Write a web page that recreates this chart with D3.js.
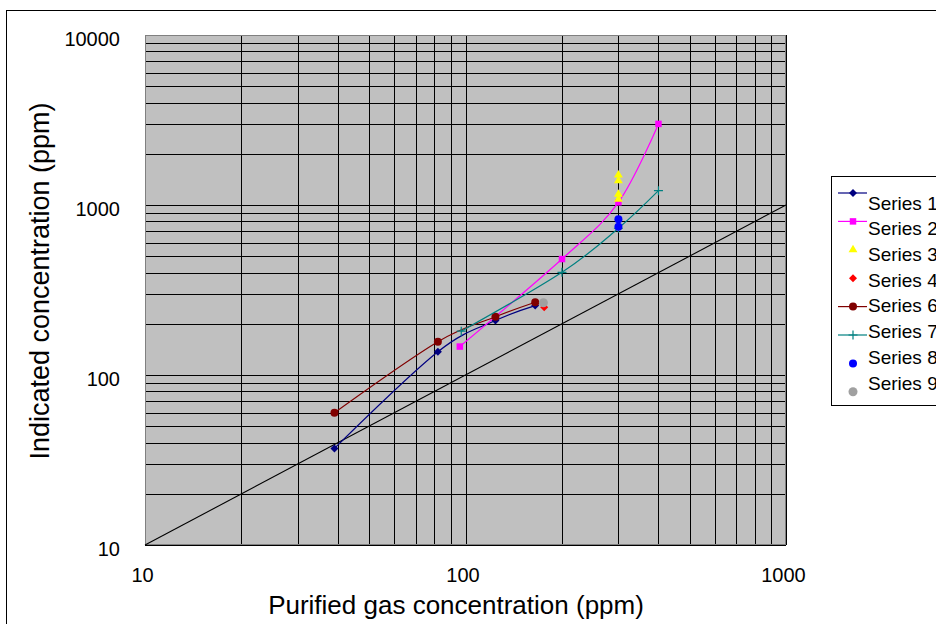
<!DOCTYPE html>
<html>
<head>
<meta charset="utf-8">
<script src="https://cdn.jsdelivr.net/npm/d3@7"></script>
<style>
    body { margin: 0; background: #fff; }
    text { font-family: "Liberation Sans", Arial, sans-serif; fill: #000; }
</style>
</head>
<body>
<div id="chart"></div>
<script>
// values (ppm)
const seriesNames = ["Series 1", "Series 2", "Series 3", "Series 4", "Series 6", "Series 7", "Series 8", "Series 9"];

const series1X = [39, 82, 124, 165];
const series1Y = [37, 137, 209, 256];
const series2X = [96, 200, 300, 400];
const series2Y = [147, 481, 1037, 3000];
const series3X = [300, 300, 300, 300];
const series3Y = [1500, 1390, 1156, 1081];
const series4X = [176];
const series4Y = [250];
const series6X = [39, 82, 124, 165];
const series6Y = [60, 157, 220, 268];
const series7X = [97, 200, 300, 400];
const series7Y = [181, 402, 730, 1214];
const series8X = [300, 300];
const series8Y = [824, 745];
const series9X = [175];
const series9Y = [266];

const refLineX = [10, 1000];
const refLineY = [10, 1000];

const xDomain = [10, 1000];
const yDomain = [10, 10000];
const xLabels = [10, 100, 1000];
const yLabels = [10, 100, 1000, 10000];

// styling per series
const seriesStyle = [
    { color: "#000080", shape: "diamond", line: true },
    { color: "#FF00FF", shape: "square", line: true },
    { color: "#FFFF00", shape: "triangle", line: false },
    { color: "#FF0000", shape: "diamond", line: false },
    { color: "#800000", shape: "circle", line: true },
    { color: "#008080", shape: "plus", line: true },
    { color: "#0000FF", shape: "circle", line: false },
    { color: "#A0A0A0", shape: "bigcircle", line: false }
];

const seriesData = [
    [series1X, series1Y], [series2X, series2Y], [series3X, series3Y], [series4X, series4Y],
    [series6X, series6Y], [series7X, series7Y], [series8X, series8Y], [series9X, series9Y]
].map(([xs, ys]) => xs.map((v, i) => [v, ys[i]]));

const margin = { top: 35, left: 145 };
const width = 641;
const height = 510;

const svg = d3.select("#chart")
    .append("svg")
    .attr("width", 936)
    .attr("height", 624);

// outer chart frame (runs off right and bottom)
svg.append("rect")
    .attr("x", 6.5).attr("y", 10.5)
    .attr("width", 1000).attr("height", 1000)
    .attr("fill", "none")
    .attr("stroke", "#000");

const x = d3.scaleLog().domain(xDomain).range([0, width]);
const y = d3.scaleLog().domain(yDomain).range([height, 0]);

const g = svg.append("g")
    .attr("transform", `translate(${margin.left},${margin.top})`);

g.append("rect")
    .attr("width", width).attr("height", height)
    .attr("fill", "#C0C0C0");

// gridlines, major and minor
const xGrid = g.append("g")
    .call(d3.axisBottom(x).tickSize(height).tickFormat(""));
const yGrid = g.append("g")
    .call(d3.axisRight(y).tickSize(width).tickFormat(""));
[xGrid, yGrid].forEach(gr => {
    gr.select(".domain").remove();
    gr.selectAll("line").attr("stroke", "#000").attr("shape-rendering", "crispEdges");
});

g.append("rect")
    .attr("x", 0.5).attr("y", 0.5)
    .attr("width", width - 1).attr("height", height - 1)
    .attr("fill", "none")
    .attr("stroke", "#808080")
    .attr("shape-rendering", "crispEdges");

// tick labels
const xAxis = g.append("g")
    .attr("transform", `translate(-3,${height})`)
    .call(d3.axisBottom(x).tickValues(xLabels).tickFormat(d3.format("d")).tickSize(0).tickPadding(23));
const yAxis = g.append("g")
    .call(d3.axisLeft(y).tickValues(yLabels).tickFormat(d3.format("d")).tickSize(0).tickPadding(25));
[xAxis, yAxis].forEach(ax => {
    ax.select(".domain").remove();
    ax.selectAll("text").attr("font-size", 20).attr("font-family", "Liberation Sans, Arial, sans-serif");
});
yAxis.selectAll("text").attr("dy", "0.5em");

// y = x reference line
g.append("path")
    .datum(refLineX.map((v, i) => [v, refLineY[i]]))
    .attr("fill", "none")
    .attr("stroke", "#000")
    .attr("stroke-width", 1.1)
    .attr("d", d3.line().x(d => x(d[0])).y(d => y(d[1])));

function drawMarker(sel, shape, color) {
    if (shape === "plus") {
        sel.append("path")
            .attr("d", "M-4.5,0H4.5M0,-4.5V4.5")
            .attr("stroke", color).attr("stroke-width", 1.2).attr("fill", "none");
    } else if (shape === "diamond") {
        sel.append("path")
            .attr("d", d3.symbol(d3.symbolSquare, 32)())
            .attr("transform", "rotate(45)")
            .attr("fill", color);
    } else if (shape === "square") {
        sel.append("path").attr("d", d3.symbol(d3.symbolSquare, 42)()).attr("fill", color);
    } else if (shape === "triangle") {
        sel.append("path").attr("d", d3.symbol(d3.symbolTriangle, 34)()).attr("fill", color);
    } else if (shape === "bigcircle") {
        sel.append("circle").attr("r", 4.5).attr("fill", color);
    } else {
        sel.append("circle").attr("r", 4).attr("fill", color);
    }
}

const line = d3.line()
    .x(d => x(d[0]))
    .y(d => y(d[1]))
    .curve(d3.curveCardinal.tension(0));

seriesData.forEach((pts, i) => {
    const st = seriesStyle[i];
    const sg = g.append("g");
    if (st.line) {
        sg.append("path")
            .datum(pts)
            .attr("fill", "none")
            .attr("stroke", st.color)
            .attr("stroke-width", 1.2)
            .attr("d", line);
    }
    sg.selectAll("g.mk")
        .data(pts)
        .enter().append("g")
        .attr("class", "mk")
        .attr("transform", d => `translate(${x(d[0])},${y(d[1])})`)
        .each(function() { drawMarker(d3.select(this), st.shape, st.color); });
});

// axis titles
svg.append("text")
    .attr("x", 456)
    .attr("y", 614)
    .attr("text-anchor", "middle")
    .attr("font-size", 26)
    .text("Purified gas concentration (ppm)");

svg.append("text")
    .attr("transform", "translate(49,281) rotate(-90)")
    .attr("text-anchor", "middle")
    .attr("font-size", 27)
    .text("Indicated concentration (ppm)");

// legend
const legend = svg.append("g").attr("transform", "translate(831,176)");
legend.append("rect")
    .attr("x", 0.5).attr("y", 0.5)
    .attr("width", 200).attr("height", 229)
    .attr("fill", "#fff")
    .attr("stroke", "#000");

seriesNames.forEach((name, i) => {
    const st = seriesStyle[i];
    const my = 17 + i * 28.4;
    const ty = 27 + i * 25.7;
    if (st.line) {
        legend.append("line")
            .attr("x1", 7).attr("x2", 36)
            .attr("y1", my).attr("y2", my)
            .attr("stroke", st.color)
            .attr("stroke-width", 1.2);
    }
    const mk = legend.append("g").attr("transform", `translate(22,${my})`);
    drawMarker(mk, st.shape, st.color);
    legend.append("text")
        .attr("x", 37)
        .attr("y", ty)
        .attr("dy", "0.35em")
        .attr("font-size", 19)
        .text(name);
});
</script>
</body>
</html>
